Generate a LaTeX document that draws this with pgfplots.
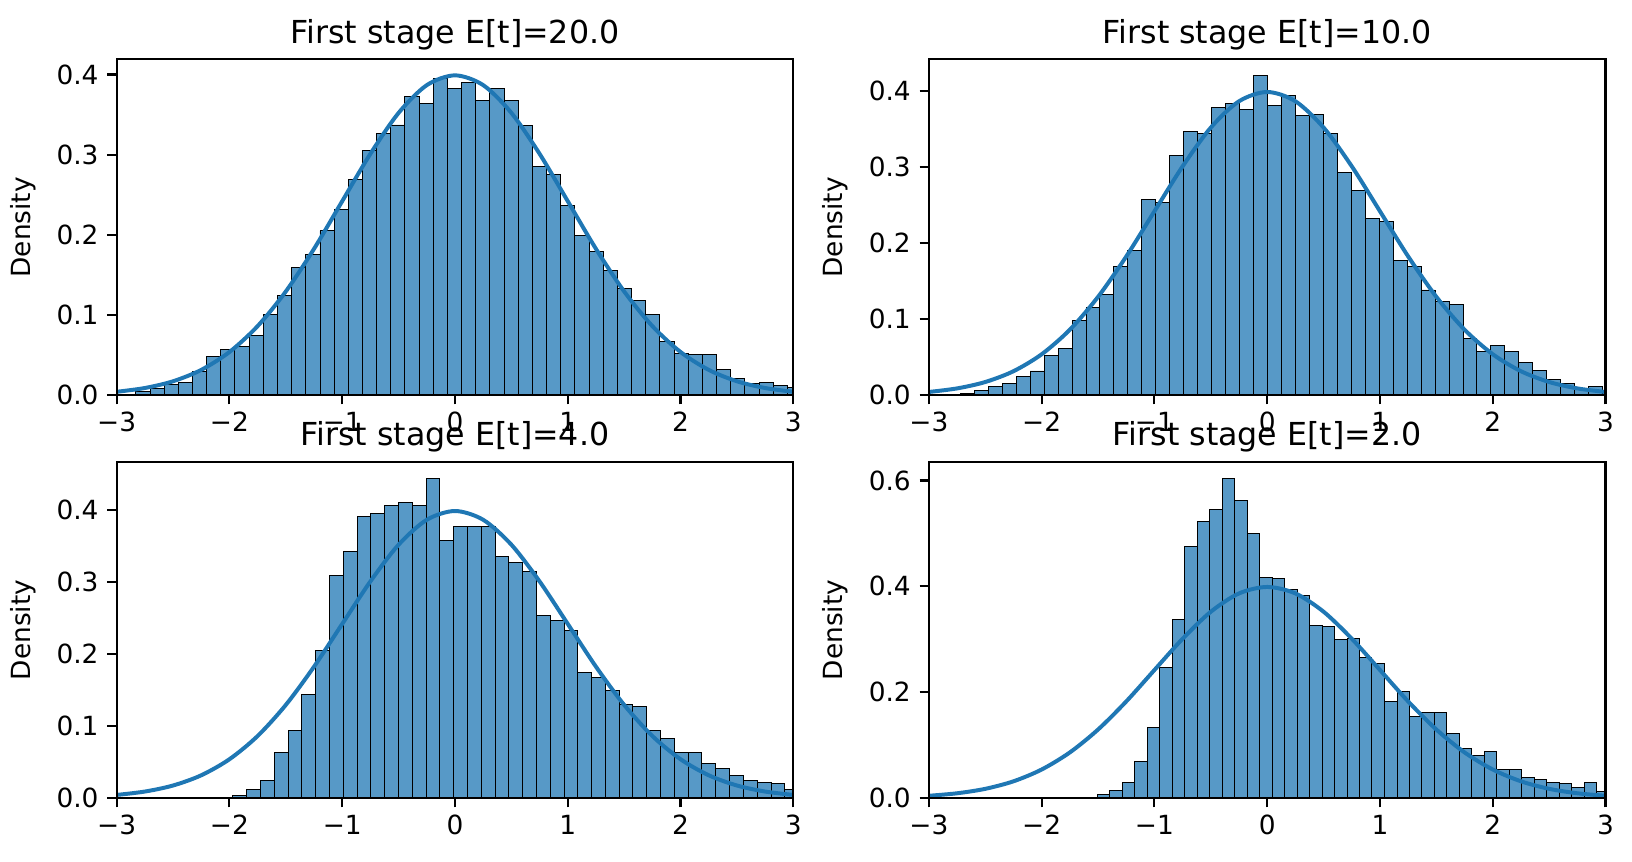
\documentclass[border=0pt]{standalone}
\usepackage{fontspec}
\setmainfont{DejaVu Sans}
\usepackage{pgfplots}
\usepackage{pgfplotstable}
\pgfplotsset{compat=1.18}

\definecolor{c0}{HTML}{1F77B4}
\definecolor{barblue}{RGB}{87,153,199}

% standard normal density, read at steps of 0.25
\pgfplotstableread{
x y
-3.00 0.0044
-2.75 0.0091
-2.50 0.0175
-2.25 0.0317
-2.00 0.0540
-1.75 0.0863
-1.50 0.1295
-1.25 0.1826
-1.00 0.2420
-0.75 0.3011
-0.50 0.3521
-0.25 0.3867
0.00 0.3989
0.25 0.3867
0.50 0.3521
0.75 0.3011
1.00 0.2420
1.25 0.1826
1.50 0.1295
1.75 0.0863
2.00 0.0540
2.25 0.0317
2.50 0.0175
2.75 0.0091
3.00 0.0044
}\pdfcurve

% histograms: left bin edge, density (last row = right edge)
\pgfplotstableread{
x h
-2.830 0.005
-2.704 0.0087
-2.579 0.0129
-2.453 0.016
-2.328 0.030
-2.202 0.049
-2.076 0.057
-1.951 0.061
-1.825 0.075
-1.700 0.101
-1.574 0.124
-1.448 0.159
-1.323 0.176
-1.197 0.205
-1.072 0.2315
-0.946 0.269
-0.820 0.305
-0.695 0.326
-0.569 0.337
-0.444 0.372
-0.318 0.3635
-0.192 0.3946
-0.067 0.383
0.059 0.390
0.184 0.367
0.310 0.382
0.436 0.367
0.561 0.336
0.687 0.285
0.812 0.275
0.938 0.2365
1.064 0.199
1.189 0.179
1.315 0.156
1.440 0.133
1.566 0.118
1.692 0.101
1.817 0.067
1.943 0.052
2.068 0.051
2.194 0.051
2.320 0.032
2.445 0.021
2.571 0.015
2.696 0.0166
2.822 0.012
2.948 0.010
3.073 0
}\histA

\pgfplotstableread{
x h
-2.721 0.003
-2.597 0.0068
-2.473 0.012
-2.349 0.016
-2.226 0.025
-2.102 0.032
-1.978 0.053
-1.854 0.061
-1.730 0.098
-1.607 0.115
-1.483 0.132
-1.359 0.170
-1.235 0.190
-1.111 0.258
-0.988 0.254
-0.864 0.315
-0.740 0.347
-0.616 0.344
-0.492 0.378
-0.369 0.3836
-0.245 0.3757
-0.121 0.4205
0.003 0.381
0.127 0.394
0.251 0.368
0.374 0.369
0.498 0.344
0.622 0.293
0.746 0.269
0.870 0.233
0.993 0.228
1.117 0.177
1.241 0.169
1.365 0.1385
1.489 0.124
1.612 0.119
1.736 0.075
1.860 0.058
1.984 0.065
2.108 0.058
2.231 0.0437
2.355 0.033
2.479 0.021
2.603 0.015
2.727 0.008
2.850 0.012
2.974 0.006
3.098 0
}\histB

\pgfplotstableread{
x h
-1.969 0.004
-1.847 0.012
-1.725 0.025
-1.602 0.0634
-1.480 0.094
-1.358 0.144
-1.235 0.205
-1.113 0.309
-0.991 0.3426
-0.868 0.391
-0.746 0.395
-0.624 0.406
-0.501 0.411
-0.379 0.406
-0.257 0.444
-0.134 0.358
-0.012 0.377
0.110 0.377
0.233 0.377
0.355 0.3356
0.477 0.327
0.600 0.315
0.722 0.254
0.844 0.247
0.967 0.233
1.089 0.1745
1.211 0.168
1.334 0.1495
1.456 0.130
1.578 0.1273
1.701 0.094
1.823 0.083
1.945 0.0634
2.068 0.0634
2.190 0.048
2.312 0.041
2.435 0.0315
2.557 0.025
2.679 0.022
2.802 0.020
2.924 0.012
3.046 0
}\histC

\pgfplotstableread{
x h
-1.508 0.006
-1.397 0.015
-1.287 0.030
-1.176 0.0694
-1.065 0.1337
-0.954 0.247
-0.844 0.338
-0.733 0.476
-0.622 0.522
-0.511 0.546
-0.400 0.603
-0.290 0.5615
-0.179 0.499
-0.068 0.4177
0.043 0.414
0.154 0.395
0.264 0.3836
0.375 0.327
0.486 0.325
0.597 0.300
0.708 0.302
0.818 0.266
0.929 0.255
1.040 0.183
1.151 0.202
1.262 0.1546
1.372 0.162
1.483 0.162
1.594 0.1224
1.705 0.094
1.815 0.081
1.926 0.088
2.037 0.054
2.148 0.054
2.259 0.039
2.369 0.035
2.480 0.030
2.591 0.028
2.702 0.020
2.813 0.030
2.923 0.012
3.034 0
}\histD

\pgfplotsset{
  panel/.style={
    scale only axis, width=243.6pt, height=121pt,
    anchor=south west,
    xmin=-3, xmax=3, ymin=0,
    enlargelimits=false,
    axis on top,
    axis line style={line width=0.76pt, black},
    major tick length=3.3pt, tick align=outside, tick pos=left,
    every tick/.style={line width=0.76pt, black},
    xtick={-3,-2,-1,0,1,2,3},
    xticklabels={−3,−2,−1,0,1,2,3},
    tick label style={font=\fontsize{9.5}{11}\selectfont},
    yticklabel style={xshift=0.3pt},
    xticklabel style={yshift=0.8pt},
    ylabel={Density},
    ylabel shift=0.6pt,
    label style={font=\fontsize{9.5}{11}\selectfont},
    every axis title shift=0pt,
    every axis title/.style={at={(0.5,1)}, anchor=south, inner sep=0pt,
      yshift=3.2pt, font=\fontsize{11.4}{13}\selectfont},
  },
  bars/.style={ybar interval, fill=barblue, draw=black, line width=0.35pt},
  curve/.style={smooth, color=c0, line width=1.43pt},
}

\begin{document}
\begin{tikzpicture}
\path[use as bounding box] (0,0) rectangle (587.52pt,310.32pt);

\begin{axis}[panel, at={(42pt,168pt)}, ymax=0.419,
  title={First stage E[t]=20.0},
  ytick={0,0.1,0.2,0.3,0.4}, yticklabels={0.0,0.1,0.2,0.3,0.4}]
\addplot[bars] table[x=x, y=h] {\histA};
\addplot[curve] table[x=x, y=y] {\pdfcurve};
\end{axis}

\begin{axis}[panel, at={(334.4pt,168pt)}, ymax=0.442,
  title={First stage E[t]=10.0},
  ytick={0,0.1,0.2,0.3,0.4}, yticklabels={0.0,0.1,0.2,0.3,0.4}]
\addplot[bars] table[x=x, y=h] {\histB};
\addplot[curve] table[x=x, y=y] {\pdfcurve};
\end{axis}

\begin{axis}[panel, at={(42pt,23pt)}, ymax=0.467,
  title={First stage E[t]=4.0},
  ytick={0,0.1,0.2,0.3,0.4}, yticklabels={0.0,0.1,0.2,0.3,0.4}]
\addplot[bars] table[x=x, y=h] {\histC};
\addplot[curve] table[x=x, y=y] {\pdfcurve};
\end{axis}

\begin{axis}[panel, at={(334.4pt,23pt)}, ymax=0.635,
  title={First stage E[t]=2.0},
  ytick={0,0.2,0.4,0.6}, yticklabels={0.0,0.2,0.4,0.6}]
\addplot[bars] table[x=x, y=h] {\histD};
\addplot[curve] table[x=x, y=y] {\pdfcurve};
\end{axis}
\end{tikzpicture}
\end{document}
